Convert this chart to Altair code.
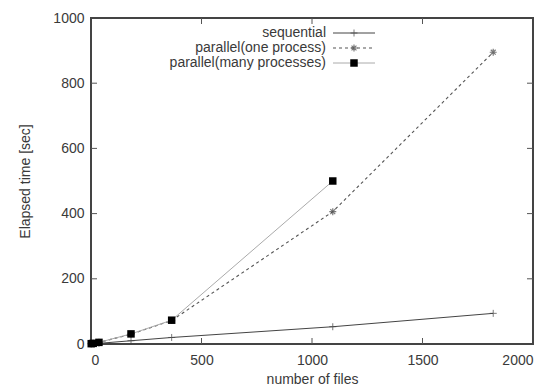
import altair as alt
import pandas as pd

files = [1, 10, 36, 181, 365, 1094, 1820]
sequential = [0.5, 1, 2, 10, 20, 53, 94]
one_process = [1, 2, 5, 30, 72, 406, 895]
many_processes = [1, 2, 5, 31, 73, 500]

series_names = ["sequential", "parallel(one process)", "parallel(many processes)"]
x_ticks = [0, 500, 1000, 1500, 2000]
y_ticks = [0, 200, 400, 600, 800, 1000]

FONT = "Liberation Sans"
TXT = "#3a3a3a"

rows = []
for f, v in zip(files, sequential):
    rows.append({"files": f, "time": v, "series": series_names[0]})
for f, v in zip(files, one_process):
    rows.append({"files": f, "time": v, "series": series_names[1]})
for f, v in zip(files[:len(many_processes)], many_processes):
    rows.append({"files": f, "time": v, "series": series_names[2]})
df = pd.DataFrame(rows)

PLUS = "M-1,0L1,0M0,-1L0,1"
STAR = "M-1,0L1,0M0,-1L0,1M-0.7,-0.7L0.7,0.7M-0.7,0.7L0.7,-0.7"

xs = alt.Scale(domain=[0, 2000], nice=False)
ys = alt.Scale(domain=[0, 1000], nice=False)

xax = alt.Axis(values=x_ticks, format="d", grid=False, ticks=False, domain=False, labelPadding=9,
               labelFont=FONT, labelFontSize=14, labelColor=TXT, title="number of files",
               titleFont=FONT, titleFontSize=14, titleFontWeight="normal", titleColor=TXT,
               titlePadding=5)
yax = alt.Axis(values=y_ticks, format="d", grid=False, ticks=False, domain=False, labelPadding=7,
               labelFont=FONT, labelFontSize=14, labelColor=TXT, title="Elapsed time [sec]",
               titleFont=FONT, titleFontSize=14, titleFontWeight="normal", titleColor=TXT,
               titlePadding=20)

base = alt.Chart(df)

def sel(name):
    return base.transform_filter(alt.datum.series == name)

x_enc = alt.X("files:Q", scale=xs, axis=xax)
y_enc = alt.Y("time:Q", scale=ys, axis=yax)

seq_style_line = dict(color="#444444", strokeWidth=1)
seq_style_pt = dict(shape=PLUS, size=49, color="#444444", strokeWidth=1, filled=False)
one_style_line = dict(color="#555555", strokeWidth=1.1, strokeDash=[3, 3])
one_style_pt = dict(shape=STAR, size=49, color="#444444", strokeWidth=1.2, filled=False)
many_style_line = dict(color="#aaaaaa", strokeWidth=1)
many_style_pt = dict(shape="square", size=56, color="#000000", filled=True, opacity=1)

seq_line = sel(series_names[0]).mark_line(**seq_style_line).encode(x=x_enc, y=y_enc)
seq_pts = sel(series_names[0]).mark_point(**seq_style_pt).encode(x="files:Q", y="time:Q")
one_line = sel(series_names[1]).mark_line(**one_style_line).encode(x="files:Q", y="time:Q")
one_pts = sel(series_names[1]).mark_point(**one_style_pt).encode(x="files:Q", y="time:Q")
many_line = sel(series_names[2]).mark_line(**many_style_line).encode(x="files:Q", y="time:Q")
many_pts = sel(series_names[2]).mark_point(**many_style_pt).encode(x="files:Q", y="time:Q")

# inward mirror ticks on all four sides
xt = pd.DataFrame({"v": x_ticks[1:-1]})
yt = pd.DataFrame({"v": y_ticks[1:-1]})
H = 326
W = 442
tick_col = "#555555"
xt_bot = alt.Chart(xt).mark_rule(color=tick_col, strokeWidth=1).encode(x=alt.X("v:Q", scale=xs), y=alt.value(H), y2=alt.value(H - 6))
xt_top = alt.Chart(xt).mark_rule(color=tick_col, strokeWidth=1).encode(x=alt.X("v:Q", scale=xs), y=alt.value(0), y2=alt.value(6))
yt_left = alt.Chart(yt).mark_rule(color=tick_col, strokeWidth=1).encode(y=alt.Y("v:Q", scale=ys), x=alt.value(0), x2=alt.value(6))
yt_right = alt.Chart(yt).mark_rule(color=tick_col, strokeWidth=1).encode(y=alt.Y("v:Q", scale=ys), x=alt.value(W), x2=alt.value(W - 6))

# legend (gnuplot style: label on the left, line sample on the right)
leg = pd.DataFrame({"series": series_names, "row": [0, 1, 2]})
leg_y = [15, 30, 45]
styles = [(seq_style_line, seq_style_pt), (one_style_line, one_style_pt), (many_style_line, many_style_pt)]
legend_layers = []
for i, name in enumerate(series_names):
    c = alt.Chart(leg[leg.series == name])
    legend_layers.append(c.mark_text(align="right", baseline="middle", font=FONT, fontSize=14, color=TXT).encode(
        text="series:N", x=alt.value(235), y=alt.value(leg_y[i])))
    legend_layers.append(c.mark_rule(**styles[i][0]).encode(x=alt.value(242), x2=alt.value(284), y=alt.value(leg_y[i])))
    legend_layers.append(c.mark_point(**styles[i][1]).encode(x=alt.value(263), y=alt.value(leg_y[i])))

chart = alt.layer(
    seq_line, one_line, many_line, seq_pts, one_pts, many_pts,
    xt_bot, xt_top, yt_left, yt_right, *legend_layers
).properties(
    width=W, height=H,
    autosize=alt.AutoSizeParams(type="none"),
    padding={"left": 83, "top": 10, "right": 14, "bottom": 48},
    background="white",
).configure_view(stroke="#444444", strokeWidth=2)

chart.save("out.html", embed_options={"renderer": "svg", "actions": False})
